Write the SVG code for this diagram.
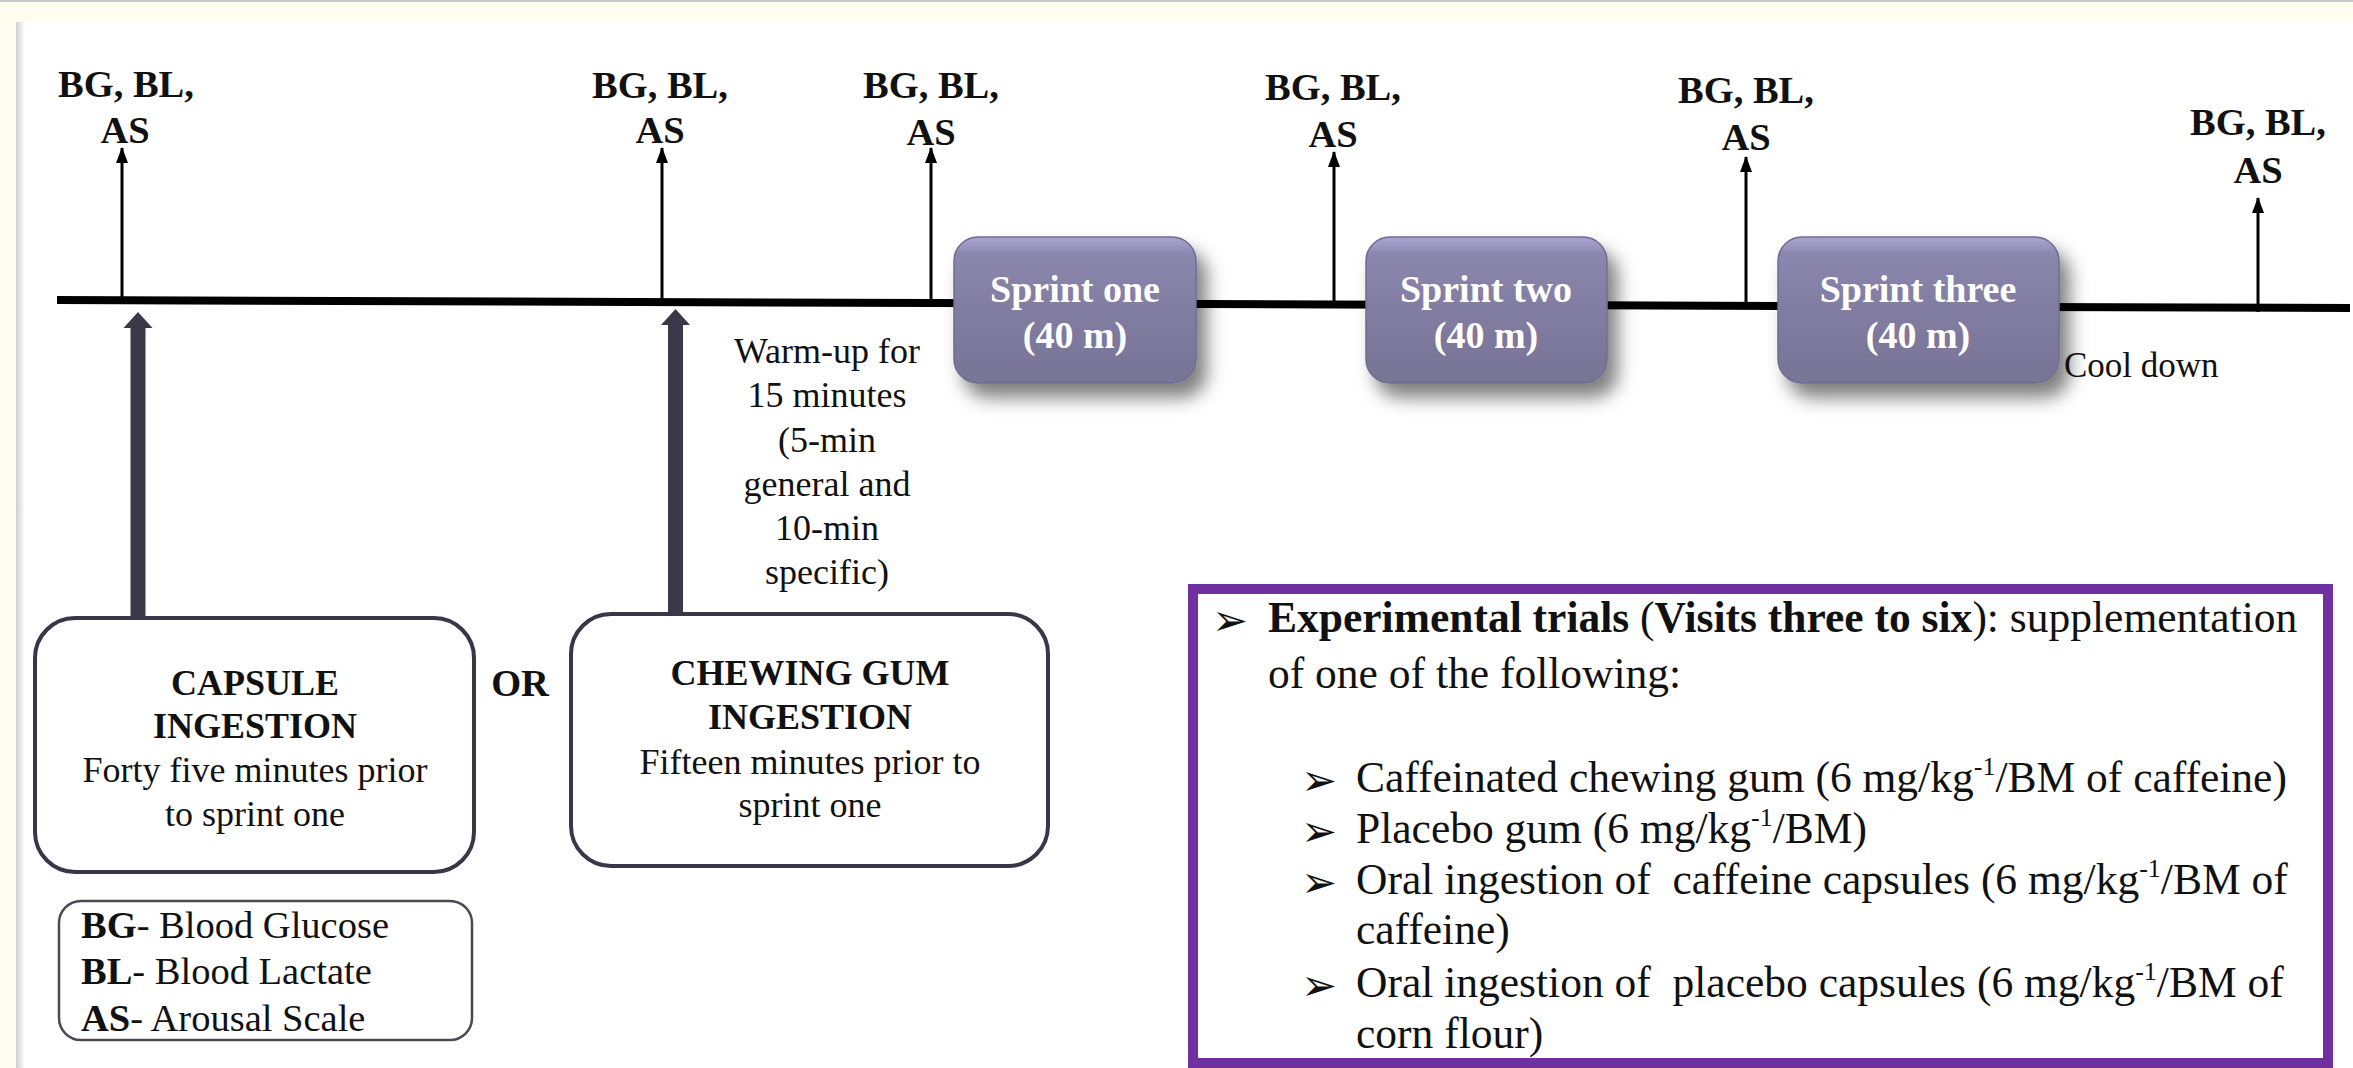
<svg xmlns="http://www.w3.org/2000/svg" width="2353" height="1068" viewBox="0 0 2353 1068">
<defs>
<style>
.t{font-family:"Liberation Serif","Times New Roman",serif;fill:#111;}
.lbl{font-size:38.5px;font-weight:bold;text-anchor:middle;}
.sp{font-size:38px;font-weight:bold;fill:#fff;text-anchor:middle;}
.body{font-size:36px;text-anchor:middle;}
.head{font-size:36px;font-weight:bold;text-anchor:middle;}
.leg{font-size:38.5px;}
.pb{font-size:43.5px;}
.bul{font-family:"DejaVu Sans",sans-serif;font-size:43px;fill:#111;}
.thin{stroke:#000;stroke-width:3;fill:none;}
.thick{fill:#3b3849;}
.box{fill:#fff;stroke:#3a3648;stroke-width:4;}
.sprint{fill:url(#sg);stroke:#6f6b90;stroke-width:1.5;filter:url(#sh);}
</style>
<linearGradient id="sg" x1="0" y1="0" x2="0" y2="1">
<stop offset="0" stop-color="#aaa6d4"/>
<stop offset="0.12" stop-color="#8a86ad"/>
<stop offset="0.6" stop-color="#7f7b9f"/>
<stop offset="1" stop-color="#787496"/>
</linearGradient>
<linearGradient id="edge" x1="0" y1="0" x2="1" y2="0">
<stop offset="0" stop-color="#cfcfcf"/>
<stop offset="1" stop-color="#ffffff"/>
</linearGradient>
<filter id="sh" x="-20%" y="-20%" width="150%" height="160%">
<feDropShadow dx="10" dy="14" stdDeviation="9" flood-color="#000" flood-opacity="0.5"/>
</filter>
<marker id="ah" markerUnits="userSpaceOnUse" markerWidth="16" markerHeight="12" viewBox="0 0 16 12" refX="15" refY="6" orient="auto">
<path d="M0,0 L16,6 L0,12 z" fill="#000"/>
</marker>
</defs>

<g id="background">
<rect x="0" y="0" width="2353" height="1068" fill="#ffffff"/>
<rect x="0" y="0" width="2353" height="22" fill="#fffdf0"/>
<rect x="0" y="0" width="16" height="1068" fill="#fffdf0"/>
<rect x="0" y="0" width="2353" height="2" fill="#c8c8c8"/>
<rect x="16" y="22" width="9" height="1046" fill="url(#edge)"/>
</g>

<g id="connectors">
<path d="M57,300 L2350,308" stroke="#000" stroke-width="8" fill="none"/>
<line class="thin" x1="122" y1="300" x2="122" y2="148" marker-end="url(#ah)"/>
<line class="thin" x1="662" y1="302" x2="662" y2="148" marker-end="url(#ah)"/>
<line class="thin" x1="931" y1="303" x2="931" y2="148" marker-end="url(#ah)"/>
<line class="thin" x1="1334" y1="304" x2="1334" y2="152" marker-end="url(#ah)"/>
<line class="thin" x1="1746" y1="306" x2="1746" y2="157" marker-end="url(#ah)"/>
<line class="thin" x1="2258" y1="312" x2="2258" y2="198" marker-end="url(#ah)"/>
<path class="thick" d="M130.5,620 L130.5,328 L123.5,328 L138,312 L152.5,328 L145.5,328 L145.5,620 z"/>
<path class="thick" d="M668,616 L668,325 L661,325 L675.5,309 L690,325 L683,325 L683,616 z"/>
</g>

<g id="labels">
<text class="t lbl" x="126" y="97">BG, BL,</text><text class="t lbl" x="125" y="143">AS</text>
<text class="t lbl" x="660" y="98">BG, BL,</text><text class="t lbl" x="660" y="143">AS</text>
<text class="t lbl" x="931" y="98">BG, BL,</text><text class="t lbl" x="931" y="145">AS</text>
<text class="t lbl" x="1333" y="100">BG, BL,</text><text class="t lbl" x="1333" y="147">AS</text>
<text class="t lbl" x="1746" y="103">BG, BL,</text><text class="t lbl" x="1746" y="150">AS</text>
<text class="t lbl" x="2258" y="135">BG, BL,</text><text class="t lbl" x="2258" y="183">AS</text>
</g>

<g id="sprint-one">
<rect class="sprint" x="954" y="237" width="242" height="146" rx="24"/>
<text class="t sp" x="1075" y="302">Sprint one</text>
<text class="t sp" x="1075" y="348">(40 m)</text>
</g>
<g id="sprint-two">
<rect class="sprint" x="1366" y="237" width="241" height="146" rx="24"/>
<text class="t sp" x="1486" y="302">Sprint two</text>
<text class="t sp" x="1486" y="348">(40 m)</text>
</g>
<g id="sprint-three">
<rect class="sprint" x="1778" y="237" width="281" height="146" rx="24"/>
<text class="t sp" x="1918" y="302">Sprint three</text>
<text class="t sp" x="1918" y="348">(40 m)</text>
</g>

<g id="cool-down">
<text class="t" x="2064" y="377" font-size="35px">Cool down</text>
</g>

<g id="warm-up">
<text class="t body" x="827" y="363">Warm-up for</text>
<text class="t body" x="827" y="407">15 minutes</text>
<text class="t body" x="827" y="452">(5-min</text>
<text class="t body" x="827" y="496">general and</text>
<text class="t body" x="827" y="540">10-min</text>
<text class="t body" x="827" y="584">specific)</text>
</g>

<g id="capsule">
<rect class="box" x="35" y="618" width="439" height="254" rx="40"/>
<text class="t head" x="255" y="695">CAPSULE</text>
<text class="t head" x="255" y="738">INGESTION</text>
<text class="t body" x="255" y="782">Forty five minutes prior</text>
<text class="t body" x="255" y="826">to sprint one</text>
</g>

<g id="or">
<text class="t lbl" x="520" y="696">OR</text>
</g>

<g id="chewing-gum">
<rect class="box" x="571" y="614" width="477" height="252" rx="40"/>
<text class="t head" x="810" y="685">CHEWING GUM</text>
<text class="t head" x="810" y="729">INGESTION</text>
<text class="t body" x="810" y="774">Fifteen minutes prior to</text>
<text class="t body" x="810" y="817">sprint one</text>
</g>

<g id="legend">
<rect x="59" y="901" width="413" height="139" rx="22" fill="#fff" stroke="#4a4a55" stroke-width="2.5"/>
<text class="t leg" x="81" y="938"><tspan font-weight="bold">BG</tspan>- Blood Glucose</text>
<text class="t leg" x="81" y="984"><tspan font-weight="bold">BL</tspan>- Blood Lactate</text>
<text class="t leg" x="81" y="1031"><tspan font-weight="bold">AS</tspan>- Arousal Scale</text>
</g>

<g id="experimental-trials">
<rect x="1193" y="589" width="1135" height="474" fill="#fff" stroke="#7030a0" stroke-width="10"/>
<text class="bul" x="1212" y="635">➢</text>
<text class="t pb" x="1268" y="632"><tspan font-weight="bold">Experimental trials</tspan> (<tspan font-weight="bold">Visits three to six</tspan>): supplementation</text>
<text class="t pb" x="1268" y="688">of one of the following:</text>
<text class="bul" x="1301" y="795">➢</text>
<text class="t pb" x="1356" y="792">Caffeinated chewing gum (6 mg/kg<tspan font-size="26px" dy="-17">-1</tspan><tspan dy="17">/BM of caffeine)</tspan></text>
<text class="bul" x="1301" y="846">➢</text>
<text class="t pb" x="1356" y="843">Placebo gum (6 mg/kg<tspan font-size="26px" dy="-17">-1</tspan><tspan dy="17">/BM)</tspan></text>
<text class="bul" x="1301" y="897">➢</text>
<text class="t pb" x="1356" y="894" xml:space="preserve">Oral ingestion of  caffeine capsules (6 mg/kg<tspan font-size="26px" dy="-17">-1</tspan><tspan dy="17">/BM of</tspan></text>
<text class="t pb" x="1356" y="944">caffeine)</text>
<text class="bul" x="1301" y="1000">➢</text>
<text class="t pb" x="1356" y="997" xml:space="preserve">Oral ingestion of  placebo capsules (6 mg/kg<tspan font-size="26px" dy="-17">-1</tspan><tspan dy="17">/BM of</tspan></text>
<text class="t pb" x="1356" y="1048">corn flour)</text>
</g>
</svg>
